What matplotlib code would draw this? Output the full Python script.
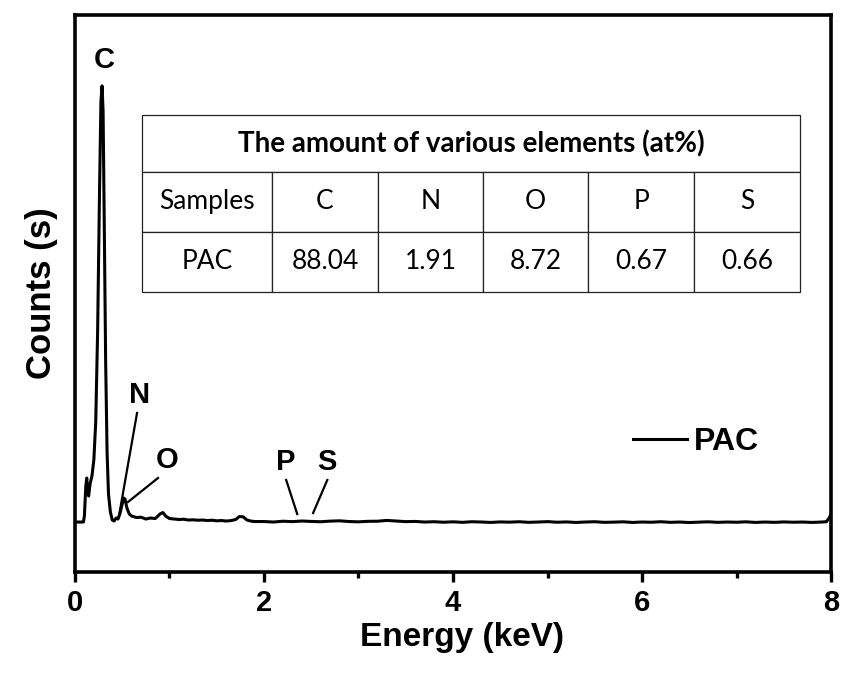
import matplotlib.pyplot as plt
import numpy as np

plt.rcParams['font.family'] = ['Liberation Sans', 'DejaVu Sans']

# EDS spectrum of PAC (energy in keV, counts in arbitrary units)
energy_low = [0.00, 0.09, 0.10, 0.115, 0.125, 0.135, 0.145, 0.16, 0.18, 0.20,
              0.22, 0.24, 0.26, 0.275, 0.287, 0.298, 0.31, 0.325, 0.34, 0.355,
              0.375, 0.395, 0.415, 0.435, 0.455, 0.475, 0.495, 0.515, 0.53, 0.55,
              0.575, 0.60, 0.65, 0.70, 0.75, 0.80, 0.85, 0.90, 0.93, 0.96,
              1.00, 1.05, 1.10, 1.15, 1.20, 1.25, 1.30, 1.35, 1.40, 1.45,
              1.50, 1.55, 1.60, 1.65, 1.70, 1.74, 1.78, 1.82, 1.86, 1.90]
counts_low = [500, 500, 560, 860, 940, 820, 760, 880, 960, 1120,
              1500, 2400, 3800, 4700, 4860, 4600, 3500, 2100, 1200, 780,
              600, 520, 510, 540, 530, 580, 660, 740, 730, 640,
              580, 560, 545, 548, 530, 540, 535, 580, 595, 560,
              535, 530, 525, 528, 520, 522, 518, 520, 515, 518,
              512, 515, 510, 514, 525, 555, 552, 520, 510, 505]

energy_high = [2.0, 2.1, 2.2, 2.3, 2.4, 2.5, 2.6, 2.7, 2.8, 2.9,
               3.0, 3.1, 3.2, 3.3, 3.4, 3.5, 3.6, 3.7, 3.8, 3.9,
               4.0, 4.1, 4.2, 4.3, 4.4, 4.5, 4.6, 4.7, 4.8, 4.9,
               5.0, 5.1, 5.2, 5.3, 5.4, 5.5, 5.6, 5.7, 5.8, 5.9,
               6.0, 6.1, 6.2, 6.3, 6.4, 6.5, 6.6, 6.7, 6.8, 6.9,
               7.0, 7.1, 7.2, 7.3, 7.4, 7.5, 7.6, 7.7, 7.8, 7.9,
               7.95, 7.98, 8.0]
counts_high = [505, 500, 508, 504, 510, 506, 503, 509, 512, 505,
               502, 507, 508, 516, 510, 504, 506, 500, 503, 498,
               502, 497, 503, 500, 496, 501, 499, 503, 497, 500,
               504, 498, 501, 496, 500, 503, 497, 499, 502, 496,
               500, 498, 503, 497, 500, 495, 499, 502, 497, 500,
               498, 502, 496, 500, 497, 501, 498, 500, 496, 500,
               503, 540, 580]

energy = energy_low + energy_high
counts = counts_low + counts_high

# composition table
elements = ['C', 'N', 'O', 'P', 'S']
pac_at = ['88.04', '1.91', '8.72', '0.67', '0.66']

fig = plt.figure(figsize=(8.42, 6.73), dpi=100)
ax = fig.add_axes([0.089, 0.150, 0.898, 0.828])

ax.plot(energy, counts, color='black', lw=2.2, label='PAC')

ax.set_xlim(0, 8)
ax.set_ylim(0, 5570)
ax.set_xticks([0, 2, 4, 6, 8])
ax.set_xticks([1, 3, 5, 7], minor=True)
ax.set_yticks([])
ax.tick_params(axis='x', which='major', direction='out', length=7, width=2.4,
               labelsize=21, pad=5)
ax.tick_params(axis='x', which='minor', direction='out', length=4, width=2.4)
for lbl in ax.get_xticklabels():
    lbl.set_fontweight('bold')
for sp in ax.spines.values():
    sp.set_linewidth(2.6)

ax.set_xlabel('Energy (keV)', fontsize=24, fontweight='bold', labelpad=4, x=0.512)
ax.set_ylabel('Counts (s)', fontsize=25, fontweight='bold', labelpad=12)

# element labels with pointer lines
lab = dict(fontsize=21, fontweight='bold', ha='center', va='center')
ax.text(0.307, 5120, 'C', **lab)
ax.text(0.689, 1770, 'N', **lab)
ax.plot([0.657, 0.466], [1590, 560], color='black', lw=1.6)
ax.text(0.975, 1120, 'O', **lab)
ax.plot([0.879, 0.561], [940, 700], color='black', lw=1.6)
ax.text(2.225, 1100, 'P', **lab)
ax.plot([2.235, 2.352], [920, 580], color='black', lw=1.6)
ax.text(2.67, 1100, 'S', **lab)
ax.plot([2.67, 2.52], [920, 590], color='black', lw=1.6)

ax.legend(loc='center left', bbox_to_anchor=(0.738, 0.233), frameon=False,
          handlelength=1.7, handletextpad=0.2, borderpad=0, borderaxespad=0,
          prop={'weight': 'bold', 'size': 23})

# inset table: title row on top, then header and values
tx0, tx1 = 0.0886, 0.959
title_tab = ax.table(cellText=[['The amount of various elements (at%)']],
                     cellLoc='center',
                     bbox=[tx0, 0.718, tx1 - tx0, 0.8205 - 0.718])
grid_tab = ax.table(cellText=[['Samples'] + elements, ['PAC'] + pac_at],
                    cellLoc='center', colWidths=[130, 106, 105, 105, 106, 106],
                    bbox=[tx0, 0.5027, tx1 - tx0, 0.718 - 0.5027])
for tab in (title_tab, grid_tab):
    tab.auto_set_font_size(False)
    for cell in tab.get_celld().values():
        cell.set_linewidth(0.9)
        cell.set_edgecolor('#222222')
        cell.get_text().set_fontfamily(['Lato', 'DejaVu Sans'])
        cell.get_text().set_fontsize(19)
title_tab[0, 0].get_text().set_fontweight('bold')
title_tab[0, 0].get_text().set_fontsize(20)

fig.savefig('out.png', dpi=100)
